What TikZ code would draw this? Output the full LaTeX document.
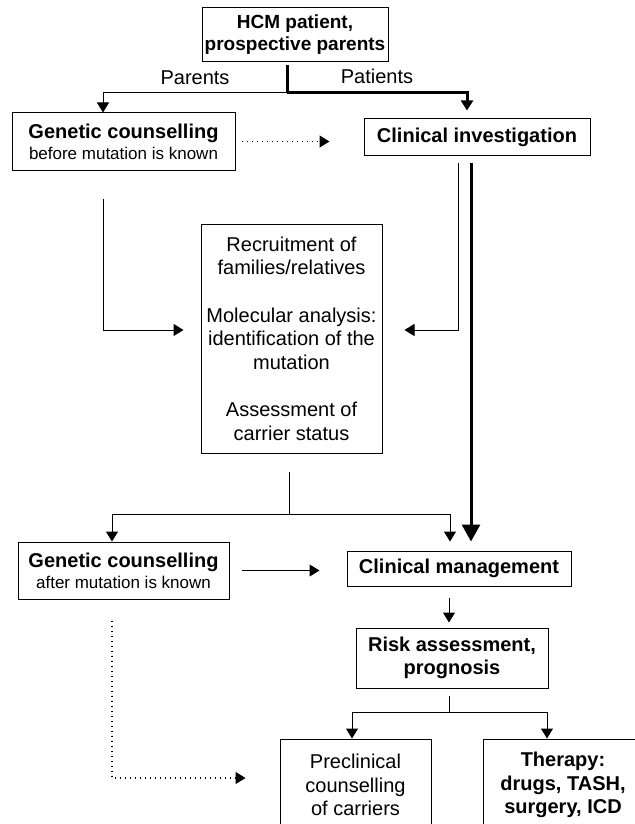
\documentclass[tikz,border=0pt]{standalone}
\usepackage{fontspec}
\setmainfont{Liberation Sans}
\usetikzlibrary{arrows.meta}

\newcommand{\mutnote}[1]{{\fontsize{8.5}{10.5}\selectfont\mdseries #1}}

\begin{document}
\begin{tikzpicture}
[
    x=0.5pt, y=-0.5pt,
    font=\fontsize{10}{11.75}\selectfont,
    box/.style={draw, line width=0.5pt, align=center, inner sep=1pt},
    bold box/.style={box, font=\fontsize{10}{11.75}\selectfont\bfseries},
    link/.style={line width=0.5pt, -{Triangle[width=6pt,length=5pt]}},
    heavy link/.style={line width=1.5pt, -{Triangle[width=6pt,length=5pt]}},
    heavy arrow/.style={line width=1.5pt, -{Triangle[width=9pt,length=8.5pt]}},
    dotted link/.style={line width=0.6pt, dash pattern=on 0.6pt off 1.9pt, -{Triangle[width=6pt,length=5pt]}}
]
    \useasboundingbox (0,0) rectangle (634,824);

    \node [bold box, font=\fontsize{9.5}{11}\selectfont\bfseries, minimum width=93pt, minimum height=27pt] (hcm) at (295,35) {HCM patient,\\prospective parents};
    \node [bold box, minimum width=111.5pt, minimum height=28.5pt] (gc1) at (123.5,141.5) {Genetic counselling\\[-1.25pt]\mutnote{before mutation is known}};
    \node [bold box, minimum width=113pt, minimum height=18pt] (ci) at (477,137) {Clinical investigation};
    \node [box, minimum width=90.5pt, minimum height=114.5pt] (steps) at (291.5,338.5) {Recruitment of\\families/relatives\\[12pt]Molecular analysis:\\identification of the\\mutation\\[12pt]Assessment of\\carrier status};
    \node [bold box, minimum width=105.5pt, minimum height=28.5pt] (gc2) at (123.5,570.5) {Genetic counselling\\[-1.25pt]\mutnote{after mutation is known}};
    \node [bold box, minimum width=112pt, minimum height=17.5pt] (cm) at (459,568.5) {Clinical management};
    \node [bold box, minimum width=96pt, minimum height=30pt] (risk) at (452,658) {Risk assessment,\\prognosis};
    \node [box, minimum width=75.5pt, minimum height=46pt] (pre) at (355.5,785) {Preclinical\\counselling\\of carriers};
    \node [bold box, minimum width=80pt, minimum height=46pt] (ther) at (563,785) {Therapy:\\drugs, TASH,\\surgery, ICD};

    \coordinate (split) at (287,93);
    \coordinate (msplit) at (289,514);
    \coordinate (rsplit) at (449,712);

    \draw [line width=1.5pt, shorten <=1.5pt] (split |- hcm.south) -- (split);
    \draw [link] (split) -| node [pos=0.25, above=0.5pt] {Parents} ([xshift=-10.25pt]gc1.north);
    \draw [heavy link, shorten >=4pt] (split) -| node [pos=0.25, above=0.5pt] {Patients} ([xshift=-5pt]ci.north);

    \draw [dotted link, shorten <=3pt, shorten >=17pt] (gc1.east) -- (ci.west |- gc1.east);
    \draw [link, shorten <=14pt, shorten >=8.5pt] ([xshift=-10.25pt]gc1.south) |- ([yshift=4.25pt]steps.west);
    \draw [link, shorten <=3.5pt, shorten >=11pt] ([xshift=-9.5pt]ci.south) |- ([yshift=4.25pt]steps.east);
    \draw [heavy arrow, shorten <=3.5pt, shorten >=4.5pt] ([xshift=-3pt]ci.south) -- ([xshift=-3pt]ci.south |- cm.north);

    \draw [line width=0.5pt, shorten <=9pt] (steps.south -| msplit) -- (msplit);
    \draw [link] (msplit) -| ([xshift=-5.75pt]gc2.north);
    \draw [link, shorten >=4.5pt] (msplit) -| ([xshift=-4.5pt]cm.north);

    \draw [link, shorten <=6pt, shorten >=13.5pt] (gc2.east) -- (cm.west |- gc2.east);
    \draw [dotted link, shorten <=10.5pt, shorten >=17pt] ([xshift=-5.75pt]gc2.south) |- ([yshift=3.5pt]pre.west);

    \draw [link, shorten <=5.5pt, shorten >=2.5pt] ([xshift=-1.5pt]risk.north |- cm.south) -- ([xshift=-1.5pt]risk.north);
    \draw [line width=0.5pt, shorten <=3.5pt] (rsplit |- risk.south) -- (rsplit);
    \draw [link] (rsplit) -| ([xshift=-1.75pt]pre.north);
    \draw [link] (rsplit) -| ([xshift=-8pt]ther.north);
\end{tikzpicture}
\end{document}
